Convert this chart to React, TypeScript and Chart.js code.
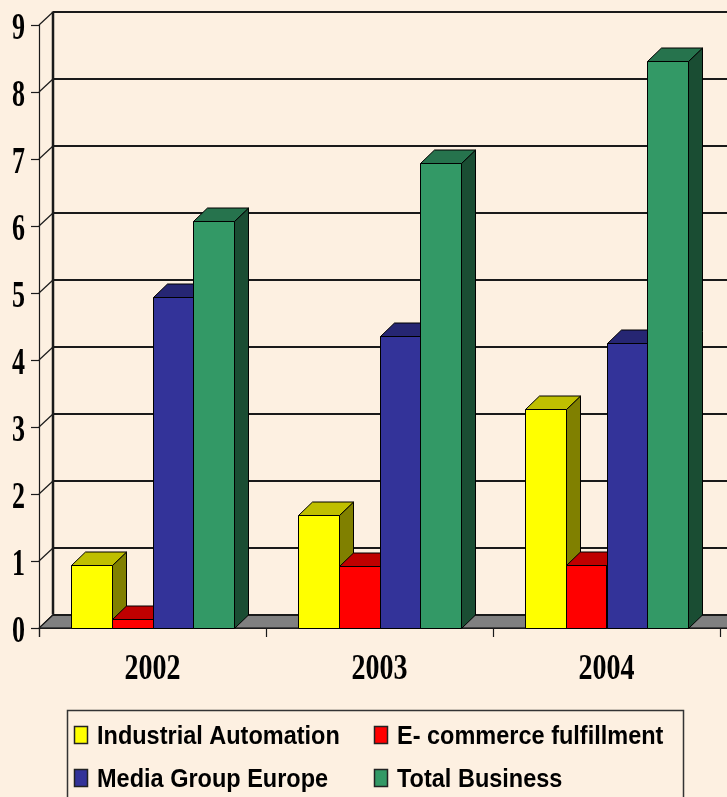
import React, { useEffect, useRef } from "react";
import { Chart, registerables } from "chart.js";

Chart.register(...registerables);

// ---- data ----
const categories = ["2002", "2003", "2004"];
const industrialAutomation = [0.94, 1.68, 3.27];
const ecommerceFulfillment = [0.13, 0.92, 0.94];
const mediaGroupEurope = [4.94, 4.36, 4.26];
const totalBusiness = [6.07, 6.94, 8.47];
const yTicks = [0, 1, 2, 3, 4, 5, 6, 7, 8, 9];

const seriesNames = [
  "Industrial Automation",
  "E- commerce fulfillment",
  "Media Group Europe",
  "Total Business",
];
const seriesColors = ["#FFFF00", "#FF0000", "#333399", "#339966"];

// ---- look ----
const W = 727;
const H = 797;
const BG = "#FDF0E1";
const DX = 14; // depth offset to the right
const DY = 13.5; // depth offset upward

function shade(hex: string, f: number): string {
  const n = parseInt(hex.slice(1), 16);
  const r = Math.round(((n >> 16) & 255) * f);
  const g = Math.round(((n >> 8) & 255) * f);
  const b = Math.round((n & 255) * f);
  return `rgb(${r},${g},${b})`;
}

function scaledText(
  ctx: CanvasRenderingContext2D,
  text: string,
  x: number,
  y: number,
  font: string,
  sy: number,
  align: CanvasTextAlign
) {
  ctx.save();
  ctx.translate(x, y);
  ctx.scale(1, sy);
  ctx.font = font;
  ctx.textAlign = align;
  ctx.textBaseline = "alphabetic";
  ctx.fillStyle = "#000";
  ctx.fillText(text, 0, 0);
  ctx.restore();
}

function poly(ctx: CanvasRenderingContext2D, pts: number[][], fill: string) {
  ctx.beginPath();
  ctx.moveTo(pts[0][0], pts[0][1]);
  for (let i = 1; i < pts.length; i++) ctx.lineTo(pts[i][0], pts[i][1]);
  ctx.closePath();
  ctx.fillStyle = fill;
  ctx.fill();
  ctx.stroke();
}

const bar3d = {
  id: "bar3d",
  beforeDraw(chart: any) {
    const ctx = chart.ctx as CanvasRenderingContext2D;
    ctx.save();
    ctx.fillStyle = BG;
    ctx.fillRect(0, 0, chart.width, chart.height);
    ctx.restore();
  },
  beforeDatasetsDraw(chart: any) {
    const ctx = chart.ctx as CanvasRenderingContext2D;
    const { left, right } = chart.chartArea;
    const ys = chart.scales.y;
    const y0 = ys.getPixelForValue(0);
    const yTop = ys.getPixelForValue(yTicks[yTicks.length - 1]);
    ctx.save();
    ctx.lineCap = "butt";

    // floor
    ctx.strokeStyle = "#000";
    ctx.lineWidth = 1;
    poly(
      ctx,
      [
        [left, y0],
        [right + 20, y0],
        [right + 20 + DX, y0 - DY],
        [left + DX, y0 - DY],
      ],
      "#808080"
    );

    // back wall grid lines and the diagonals to the front axis
    ctx.strokeStyle = "#1a1a1a";
    for (const v of yTicks) {
      const yf = ys.getPixelForValue(v);
      const yb = Math.round(yf - DY);
      ctx.lineWidth = 2;
      ctx.beginPath();
      ctx.moveTo(left + DX, yb);
      ctx.lineTo(W + 5, yb);
      ctx.stroke();
      ctx.lineWidth = 1.2;
      ctx.beginPath();
      ctx.moveTo(left, yf);
      ctx.lineTo(left + DX, yb);
      ctx.stroke();
      // front tick
      ctx.beginPath();
      ctx.moveTo(left - 8, Math.round(yf) + 0.5);
      ctx.lineTo(left, Math.round(yf) + 0.5);
      ctx.stroke();
    }
    // back wall left edge
    ctx.lineWidth = 2.5;
    ctx.beginPath();
    ctx.moveTo(left + DX, yTop - DY);
    ctx.lineTo(left + DX, y0 - DY);
    ctx.stroke();
    // front value axis
    ctx.lineWidth = 1.2;
    ctx.beginPath();
    ctx.moveTo(left + 0.5, yTop);
    ctx.lineTo(left + 0.5, y0 + 9);
    ctx.stroke();
    // category axis front line and ticks
    ctx.beginPath();
    ctx.moveTo(left, Math.round(y0) + 0.5);
    ctx.lineTo(W + 5, Math.round(y0) + 0.5);
    ctx.stroke();
    const step = (right - left) / categories.length;
    for (let i = 0; i <= categories.length; i++) {
      const x = Math.round(left + i * step) + 0.5;
      ctx.beginPath();
      ctx.moveTo(x, y0);
      ctx.lineTo(x, y0 + 9);
      ctx.stroke();
    }

    // bars, category by category, left to right
    ctx.lineWidth = 1;
    ctx.strokeStyle = "#000";
    ctx.lineJoin = "miter";
    for (let i = 0; i < categories.length; i++) {
      for (let d = 0; d < chart.data.datasets.length; d++) {
        const el = chart.getDatasetMeta(d).data[i];
        const p = el.getProps(["x", "y", "base", "width"], true);
        const col = chart.data.datasets[d].backgroundColor as string;
        const xl = Math.round(p.x - p.width / 2) + 0.5;
        const xr = Math.round(p.x + p.width / 2) + 0.5;
        const yt = Math.round(p.y) + 0.5;
        const yb = Math.round(p.base) + 0.5;
        // side
        poly(
          ctx,
          [
            [xr, yt],
            [xr + DX, yt - DY],
            [xr + DX, yb - DY],
            [xr, yb],
          ],
          shade(col, 0.5)
        );
        // top
        poly(
          ctx,
          [
            [xl, yt],
            [xr, yt],
            [xr + DX, yt - DY],
            [xl + DX, yt - DY],
          ],
          shade(col, 0.75)
        );
        // front
        ctx.beginPath();
        ctx.rect(xl, yt, xr - xl, yb - yt);
        ctx.fillStyle = col;
        ctx.fill();
        ctx.stroke();
      }
    }
    ctx.restore();
    return false;
  },
  afterDraw(chart: any) {
    const ctx = chart.ctx as CanvasRenderingContext2D;
    const { left } = chart.chartArea;
    const ys = chart.scales.y;
    const xs = chart.scales.x;
    const y0 = ys.getPixelForValue(0);

    // value labels
    for (const v of yTicks) {
      const yf = ys.getPixelForValue(v);
      scaledText(ctx, String(v), left - 14, yf + 13.5, "bold 26px 'Liberation Serif'", 1.48, "right");
    }
    // category labels
    categories.forEach((c, i) => {
      scaledText(ctx, c, xs.getPixelForValue(i), y0 + 51, "bold 28px 'Liberation Serif'", 1.28, "center");
    });

    // legend
    ctx.save();
    ctx.strokeStyle = "#333";
    ctx.lineWidth = 1.5;
    ctx.fillStyle = BG;
    ctx.beginPath();
    ctx.rect(67.5, 710.5, 616, 100);
    ctx.fill();
    ctx.stroke();
    const colX = [74, 374];
    const rowY = [744, 787];
    seriesNames.forEach((name, k) => {
      const cx = colX[k % 2];
      const by = rowY[Math.floor(k / 2)];
      ctx.fillStyle = seriesColors[k];
      ctx.strokeStyle = "#222";
      ctx.lineWidth = 1.5;
      ctx.fillRect(cx + 0.5, by - 18 + 0.5, 13, 17);
      ctx.strokeRect(cx + 0.5, by - 18 + 0.5, 13, 17);
      scaledText(ctx, name, cx + 23, by, "bold 23.5px 'Liberation Sans'", 1.13, "left");
    });
    ctx.restore();
  },
};

export default function App() {
  const ref = useRef<HTMLCanvasElement | null>(null);
  useEffect(() => {
    if (!ref.current) return;
    const chart = new Chart(ref.current, {
      type: "bar",
      data: {
        labels: categories,
        datasets: [
          { label: seriesNames[0], data: industrialAutomation, backgroundColor: seriesColors[0] },
          { label: seriesNames[1], data: ecommerceFulfillment, backgroundColor: seriesColors[1] },
          { label: seriesNames[2], data: mediaGroupEurope, backgroundColor: seriesColors[2] },
          { label: seriesNames[3], data: totalBusiness, backgroundColor: seriesColors[3] },
        ],
      },
      options: {
        responsive: false,
        animation: false,
        devicePixelRatio: 1,
        layout: { padding: { left: 39, right: 7, top: 25, bottom: 169 } },
        datasets: { bar: { categoryPercentage: 0.72, barPercentage: 1 } },
        scales: {
          x: { display: false, offset: true },
          y: { display: false, min: 0, max: 9 },
        },
        plugins: { legend: { display: false }, tooltip: { enabled: false } },
      },
      plugins: [bar3d],
    });
    return () => chart.destroy();
  }, []);
  return (
    <div style={{ position: "fixed", left: 0, top: 0, width: W, height: H, background: BG }}>
      <canvas ref={ref} width={W} height={H} style={{ display: "block" }} />
    </div>
  );
}
